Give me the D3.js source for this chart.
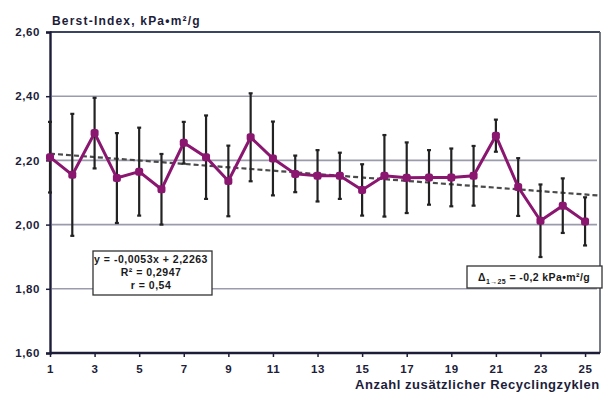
<!DOCTYPE html>
<html>
<head>
<meta charset="utf-8">
<script src="https://cdn.jsdelivr.net/npm/d3@7"></script>
<style>
  html, body { margin: 0; padding: 0; background: #fff; }
  svg { display: block; font-family: "Liberation Sans", Arial, sans-serif; font-weight: bold; }
</style>
</head>
<body>
<svg id="chart" width="616" height="394"></svg>
<script>
// Recycling cycle number
const cycles = [1,2,3,4,5,6,7,8,9,10,11,12,13,14,15,16,17,18,19,20,21,22,23,24,25];
// Burst index mean values, kPa·m²/g
const burstIndex = [2.21,2.155,2.285,2.145,2.165,2.11,2.255,2.21,2.136,2.272,2.206,2.158,2.152,2.152,2.108,2.152,2.146,2.147,2.147,2.152,2.277,2.117,2.012,2.059,2.01];
// Standard deviation (error bar half length)
const burstSd = [0.11,0.19,0.11,0.14,0.137,0.11,0.065,0.13,0.11,0.137,0.115,0.057,0.08,0.072,0.08,0.127,0.11,0.085,0.09,0.093,0.05,0.09,0.113,0.085,0.075];
// Linear trend coefficients
const trendSlope = -0.0053;
const trendIntercept = 2.2263;
const rSquared = "0,2947";
const rValue = "0,54";
const deltaText = "-0,2 kPa•m²/g";
// Axis ticks
const yTicks = [1.6, 1.8, 2.0, 2.2, 2.4, 2.6];
const xTicks = [1,3,5,7,9,11,13,15,17,19,21,23,25];

const svg = d3.select("#chart");
const x = d3.scaleLinear().domain([1, 25.67]).range([50, 600]);
const y = d3.scaleLinear().domain([1.6, 2.6]).range([353, 32]);
const fmt = v => d3.format(".2f")(v).replace(".", ",");
const ink = "#1d1d3a";

// Horizontal gridlines
svg.append("g").selectAll("line").data([1.8, 2.0, 2.2, 2.4]).join("line")
  .attr("x1", 52).attr("x2", 597)
  .attr("y1", d => y(d)).attr("y2", d => y(d))
  .attr("stroke", "#9a9cab").attr("stroke-width", 1.6);

// Plot frame: top and right in dark, left and bottom axes drawn below
svg.append("line").attr("x1", x(1)).attr("x2", 600).attr("y1", y(2.6)).attr("y2", y(2.6))
  .attr("stroke", "#3b4560").attr("stroke-width", 2);
svg.append("line").attr("x1", 600).attr("x2", 600).attr("y1", y(2.6)).attr("y2", y(1.6))
  .attr("stroke", "#555a66").attr("stroke-width", 1.6);

const labelStyle = sel => sel.attr("fill", ink).style("font-size", "11.5px").style("font-weight", "bold")
  .style("letter-spacing", "0.6px").attr("font-family", "Liberation Sans, Arial, sans-serif");

// Y axis
const yAxis = d3.axisLeft(y).tickValues(yTicks).tickFormat(fmt).tickSize(4).tickPadding(6);
const gy = svg.append("g").attr("transform", `translate(${x(1)},0)`).call(yAxis);
gy.select(".domain").attr("stroke", ink).attr("stroke-width", 2.4);
gy.selectAll(".tick line").attr("stroke", ink).attr("stroke-width", 1.5);
gy.selectAll(".tick text").call(labelStyle);

// X axis
const xAxis = d3.axisBottom(x).tickValues(xTicks).tickFormat(d3.format("d")).tickSize(4).tickPadding(8);
const gx = svg.append("g").attr("transform", `translate(0,${y(1.6)})`).call(xAxis);
gx.select(".domain").attr("stroke", ink).attr("stroke-width", 2.4).attr("d", `M${x(1)},0H600`);
gx.selectAll(".tick line").attr("stroke", ink).attr("stroke-width", 1.5);
gx.selectAll(".tick text").call(labelStyle);

// Trend line
svg.append("line")
  .attr("x1", x(1)).attr("y1", y(trendSlope * 1 + trendIntercept))
  .attr("x2", 598).attr("y2", y(trendSlope * x.invert(598) + trendIntercept))
  .attr("stroke", "#4a4a4a").attr("stroke-width", 2.2).attr("stroke-dasharray", "5,3");

// Error bars
const eb = svg.append("g").attr("stroke", "#222").attr("stroke-width", 2.2);
cycles.forEach((c, i) => {
  const cx = x(c), top = y(burstIndex[i] + burstSd[i]), bot = y(burstIndex[i] - burstSd[i]);
  eb.append("line").attr("x1", cx).attr("x2", cx).attr("y1", top).attr("y2", bot);
  eb.append("line").attr("x1", cx - 2).attr("x2", cx + 2).attr("y1", top).attr("y2", top);
  eb.append("line").attr("x1", cx - 2).attr("x2", cx + 2).attr("y1", bot).attr("y2", bot);
});

// Mean value line and markers
const pts = cycles.map((c, i) => [c, burstIndex[i]]);
svg.append("path").datum(pts)
  .attr("d", d3.line().x(d => x(d[0])).y(d => y(d[1])))
  .attr("fill", "none").attr("stroke", "#8a1670").attr("stroke-width", 3);
svg.append("g").selectAll("rect").data(pts).join("rect")
  .attr("x", d => x(d[0]) - 4).attr("y", d => y(d[1]) - 4)
  .attr("width", 8).attr("height", 8).attr("rx", 2.5)
  .attr("fill", "#8a1670");

// Axis titles
svg.append("text").attr("x", 52).attr("y", 25).attr("fill", ink)
  .style("font-size", "12px").style("letter-spacing", "1.2px").text("Berst-Index, kPa•m²/g");
svg.append("text").attr("x", 355).attr("y", 389).attr("fill", ink)
  .style("font-size", "13px").style("letter-spacing", "0.55px").text("Anzahl zusätzlicher Recyclingzyklen");

// Regression box
const rb = svg.append("g");
rb.append("rect").attr("x", 93).attr("y", 251).attr("width", 119).attr("height", 44)
  .attr("fill", "#fff").attr("stroke", "#333").attr("stroke-width", 1.3);
const eq = `y = ${String(trendSlope).replace(".", ",")}x + ${String(trendIntercept).replace(".", ",")}`;
[[eq, 263], [`R² = ${rSquared}`, 276], [`r = ${rValue}`, 289]].forEach(([t, ty]) => {
  rb.append("text").attr("x", 151).attr("y", ty).attr("text-anchor", "middle")
    .attr("fill", "#1a1a1a").style("font-size", "10.5px").style("letter-spacing", "0.5px").text(t);
});

// Total change box
const db = svg.append("g");
db.append("rect").attr("x", 467).attr("y", 266).attr("width", 135).attr("height", 22)
  .attr("fill", "#fff").attr("stroke", "#333").attr("stroke-width", 1.3);
const dt = db.append("text").attr("x", 534).attr("y", 281).attr("text-anchor", "middle")
  .attr("fill", "#1a1a1a").style("font-size", "10.5px").style("letter-spacing", "0.4px");
dt.append("tspan").text("Δ");
dt.append("tspan").attr("dy", 3).style("font-size", "7px").text("1→25");
dt.append("tspan").attr("dy", -3).text(" = " + deltaText);
</script>
</body>
</html>
